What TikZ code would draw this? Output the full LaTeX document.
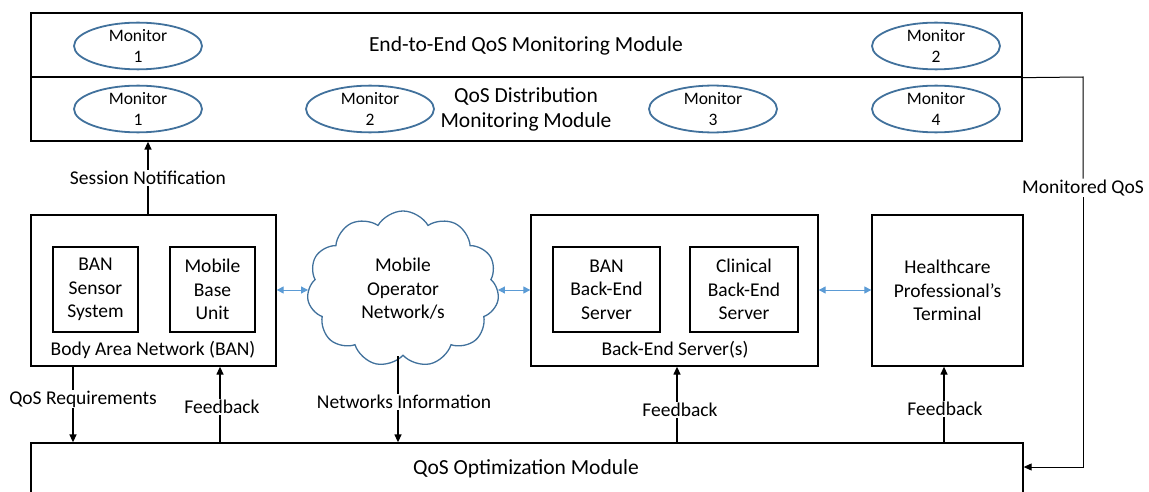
\documentclass[tikz,border=0pt]{standalone}
\usepackage{fontspec}
\setmainfont{Carlito}
\usetikzlibrary{shapes.geometric,shapes.symbols,arrows.meta}
\definecolor{ellblue}{HTML}{41719C}
\definecolor{arrblue}{HTML}{5B9BD5}
\begin{document}
\begin{tikzpicture}[x=1pt,y=-1pt,
  box/.style={draw,line width=1.3pt,inner sep=0pt},
  mon/.style={ellipse,draw=ellblue,line width=1.8pt,minimum width=128pt,minimum height=44pt,inner sep=0pt,align=center,font=\fontsize{17.5}{21}\selectfont},
  lbl/.style={font=\fontsize{19.5}{23.5}\selectfont,inner sep=1pt,align=center},
  ttl/.style={font=\fontsize{21.5}{25}\selectfont,inner sep=0pt,align=center},
  blk/.style={line width=1.3pt},
  arr/.style={line width=1.3pt,-{Triangle[length=8pt,width=7pt]}},
  barr/.style={line width=1pt,draw=arrblue,{Triangle[length=7pt,width=7pt,fill=arrblue]}-{Triangle[length=7pt,width=7pt,fill=arrblue]}}
]
\path[use as bounding box] (0,0) rectangle (1149,492);
\clip (0,0) rectangle (1149,492);
% top modules
\node[box,minimum width=991pt,minimum height=64pt] (e2e) at (526.5,45) {};
\node[ttl] (e2et) at (526,46) {End-to-End QoS Monitoring Module};
\node[box,minimum width=991pt,minimum height=64pt] (dist) at (526.5,109) {};
\node[ttl] (distt) at (526,109) {QoS Distribution\\Monitoring Module};
\node[mon] (m1a) at (138,46) {Monitor\\1};
\node[mon] (m2a) at (936,46) {Monitor\\2};
\node[mon] (m1b) at (138,109) {Monitor\\1};
\node[mon] (m2b) at (370,109) {Monitor\\2};
\node[mon] (m3b) at (713,109) {Monitor\\3};
\node[mon] (m4b) at (936,109) {Monitor\\4};
% BAN
\node[box,minimum width=245pt,minimum height=151pt] (ban) at (153.5,290.5) {};
\node[box,lbl,minimum width=85pt,minimum height=85pt] (bss) at (95.5,289.5) {BAN\\Sensor\\System};
\node[box,lbl,minimum width=85pt,minimum height=85pt] (mbu) at (212.5,289.5) {Mobile\\Base\\Unit};
\node[lbl] (bant) at (153,350) {Body Area Network (BAN)};
% cloud
\node[cloud,draw=ellblue,line width=1.3pt,cloud puffs=11,cloud puff arc=120,aspect=1.25,minimum width=192pt,minimum height=156pt,inner sep=0pt,lbl] (cloud) at (403,289) {Mobile\\Operator\\Network/s};
% back-end
\node[box,minimum width=287pt,minimum height=151pt] (be) at (674.5,290.5) {};
\node[box,lbl,minimum width=107pt,minimum height=85pt] (bbe) at (606.5,289.5) {BAN\\Back-End\\Server};
\node[box,lbl,minimum width=108pt,minimum height=85pt] (cbe) at (744,289.5) {Clinical\\Back-End\\Server};
\node[lbl] (bet) at (675,350) {Back-End Server(s)};
% healthcare
\node[box,lbl,minimum width=151pt,minimum height=151pt] (hc) at (947.5,290.5) {Healthcare\\Professional's\\Terminal};
% optimization
\node[box,minimum width=992pt,minimum height=80pt] (opt) at (527,483) {};
\node[ttl] (optt) at (526,469) {QoS Optimization Module};
% blue links
\draw[barr] (ban.east |- 0,290) -- (cloud.west |- 0,290);
\draw[barr] (cloud.east |- 0,290) -- (be.west |- 0,290);
\draw[barr] (be.east |- 0,290) -- (hc.west |- 0,290);
% session notification
\node[lbl] (sn) at (148,178) {Session Notification};
\draw[blk] (ban.north -| sn) -- (sn.south);
\draw[arr] (sn.north) -- (dist.south -| sn);
% QoS requirements
\coordinate (xq) at (73,0);
\node[lbl] (qr) at (83,399) {QoS Requirements};
\draw[blk] (ban.south -| xq) -- (qr.north -| xq);
\draw[arr] (qr.south -| xq) -- (opt.north -| xq);
% feedback BAN
\coordinate (xf1) at (220,0);
\node[lbl] (fb1) at (222,407) {Feedback};
\draw[blk] (opt.north -| xf1) -- (fb1.south -| xf1);
\draw[arr] (fb1.north -| xf1) -- (ban.south -| xf1);
% networks information
\coordinate (xn) at (398,0);
\node[lbl] (ni) at (404,402) {Networks Information};
\draw[blk] (cloud.south -| xn) -- (ni.north -| xn);
\draw[arr] (ni.south -| xn) -- (opt.north -| xn);
% feedback back-end
\coordinate (xf2) at (677,0);
\node[lbl] (fb2) at (680,410) {Feedback};
\draw[blk] (opt.north -| xf2) -- (fb2.south -| xf2);
\draw[arr] (fb2.north -| xf2) -- (be.south -| xf2);
% feedback healthcare
\coordinate (xf3) at (944,0);
\node[lbl] (fb3) at (945,409) {Feedback};
\draw[blk] (opt.north -| xf3) -- (fb3.south -| xf3);
\draw[arr] (fb3.north -| xf3) -- (hc.south -| xf3);
% monitored QoS
\node[lbl] (mq) at (1083,188) {Monitored QoS};
\coordinate (mqtop) at (1083,77);
\coordinate (mqbot) at (1083,467);
\draw[line width=1pt] (e2e.south east) -- (mqtop) -- (mq.north);
\draw[line width=1pt,-{Triangle[length=8pt,width=7pt]}] (mq.south) -- (mqbot) -- (opt.east |- mqbot);
\end{tikzpicture}
\end{document}
